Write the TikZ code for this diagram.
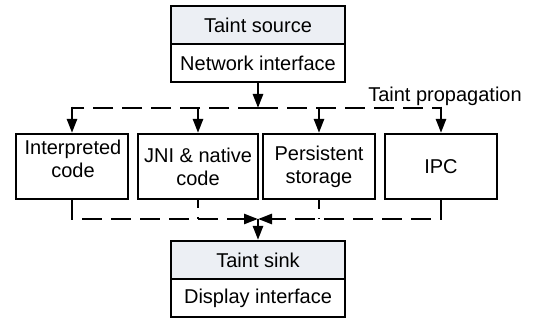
\documentclass[tikz,border=0pt]{standalone}
\usepackage{fontspec}
\setmainfont{Liberation Sans}
\usetikzlibrary{arrows.meta}
\definecolor{hdrfill}{RGB}{236,239,244}
\begin{document}
\begin{tikzpicture}[x=1pt,y=-1pt,
  every node/.style={font=\fontsize{20}{23}\selectfont},
  boxbase/.style={draw=black, line width=2.2pt, rectangle, inner sep=0pt, align=center},
  hdrbox/.style={boxbase, fill=hdrfill, minimum width=174pt, minimum height=38pt},
  bodybox/.style={boxbase, fill=white, minimum width=174pt, minimum height=38pt},
  midbox/.style={boxbase, minimum height=65pt},
  txt/.style={align=center, inner sep=0pt},
  conn/.style={line width=2.6pt},
  dashline/.style={conn, dash pattern=on 20pt off 9pt},
  arr/.style={conn, -{Triangle[length=14pt,width=10pt]}}
]
\useasboundingbox (0,0) rectangle (537,320);

% source
\node[hdrbox] (srchead) at (258,25) {Taint source};
\node[bodybox] (srcbody) at (258,63) {Network interface};

% middle boxes
\node[midbox, minimum width=112pt] (interp) at (72,166.5) {};
\node[txt] (interptxt) at (73,159) {Interpreted\\code};
\node[midbox, minimum width=120pt] (jni) at (198,166.5) {JNI \& native\\code};
\node[midbox, minimum width=112pt] (pers) at (319,166.5) {Persistent\\storage};
\node[midbox, minimum width=112pt] (ipc) at (441,166.5) {IPC};

% sink
\node[hdrbox] (sinkhead) at (258,260) {Taint sink};
\node[bodybox] (sinkbody) at (258,298) {Display interface};

% label
\node[anchor=base, inner sep=0pt] (prop) at (445,102) {Taint propagation};

% top distribution
\coordinate (tj) at (258,108);
\coordinate (tl) at (tj -| interp.north);
\coordinate (tjni) at (tj -| jni.north);
\coordinate (tpers) at (tj -| pers.north);
\coordinate (tr) at (tj -| ipc.north);
\draw[arr] (srcbody.south) -- (tj);
\draw[dashline] (tj) -- (tl);
\draw[dashline] (tj) -- (tr);
\draw[arr, shorten <=-1.3pt] (tl) -- (interp.north);
\draw[arr] (tjni) -- (jni.north);
\draw[arr] (tpers) -- (pers.north);
\draw[arr, shorten <=-1.3pt] (tr) -- (ipc.north);

% bottom collection
\coordinate (bj) at (258,219);
\draw[dashline, -{Triangle[length=14pt,width=10pt]}] (interp.south) |- (bj);
\draw[dashline, -{Triangle[length=14pt,width=10pt]}] (ipc.south) |- (bj);
\draw[dashline, dash phase=12pt] (jni.south) -- (jni.south |- bj);
\draw[dashline, dash phase=11pt] (pers.south) -- (pers.south |- bj);
\draw[arr] (bj) -- (sinkhead.north);
\end{tikzpicture}
\end{document}
